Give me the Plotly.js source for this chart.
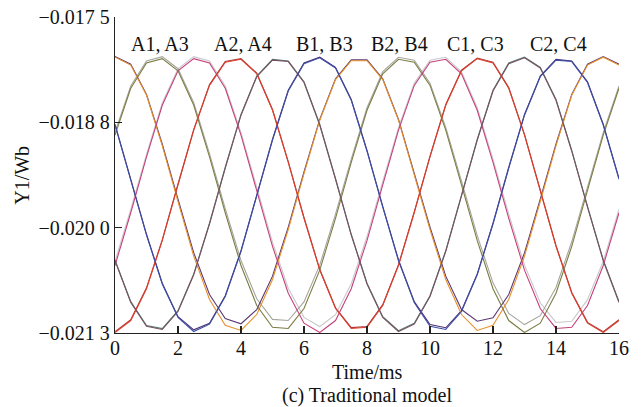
<!DOCTYPE html>
<html>
<head>
<meta charset="utf-8">
<script src="https://cdn.plot.ly/plotly-3.0.1.min.js"></script>
<style>html,body{margin:0;padding:0;background:#fff;}#chart{width:641px;height:407px;}</style>
</head>
<body>
<div id="chart"></div>
<script>
// time samples (ms)
const time = [0,0.5,1,1.5,2,2.5,3,3.5,4,4.5,5,5.5,6,6.5,7,7.5,8,8.5,9,9.5,10,10.5,11,11.5,12,12.5,13,13.5,14,14.5,15,15.5,16];

// flux linkage (Wb)
const orangeSeries = [-0.017983,-0.018078,-0.018442,-0.019047,-0.019720,-0.020376,-0.020897,-0.021207,-0.021269,-0.021078,-0.020656,-0.020056,-0.019383,-0.018741,-0.018253,-0.018026,-0.018026,-0.018253,-0.018741,-0.019383,-0.020056,-0.020656,-0.021078,-0.021269,-0.021207,-0.020897,-0.020376,-0.019720,-0.019047,-0.018442,-0.018078,-0.017983,-0.018078];
const purpleSeries = [-0.017975,-0.018068,-0.018430,-0.019027,-0.019690,-0.020336,-0.020837,-0.021127,-0.021189,-0.021018,-0.020616,-0.020026,-0.019363,-0.018731,-0.018243,-0.018016,-0.018016,-0.018243,-0.018731,-0.019363,-0.020026,-0.020616,-0.021018,-0.021159,-0.021117,-0.020837,-0.020336,-0.019690,-0.019027,-0.018430,-0.018068,-0.017975,-0.018068];
const oliveSeries = [-0.018921,-0.018357,-0.018053,-0.018001,-0.018148,-0.018562,-0.019182,-0.019854,-0.020488,-0.020969,-0.021231,-0.021245,-0.021006,-0.020544,-0.019921,-0.019249,-0.018622,-0.018183,-0.018009,-0.018044,-0.018323,-0.018861,-0.019518,-0.020190,-0.020767,-0.021150,-0.021294,-0.021182,-0.020822,-0.020258,-0.019586,-0.018921,-0.018357];
const graySeries = [-0.018890,-0.018330,-0.018029,-0.017977,-0.018122,-0.018532,-0.019142,-0.019804,-0.020428,-0.020889,-0.021136,-0.021150,-0.020926,-0.020484,-0.019871,-0.019209,-0.018592,-0.018157,-0.017985,-0.018020,-0.018296,-0.018828,-0.019473,-0.020130,-0.020697,-0.021065,-0.021199,-0.021092,-0.020752,-0.020203,-0.019546,-0.018890,-0.018330];
const pinkSeries = [-0.020488,-0.019854,-0.019182,-0.018562,-0.018148,-0.018001,-0.018053,-0.018357,-0.018921,-0.019586,-0.020258,-0.020822,-0.021182,-0.021294,-0.021150,-0.020767,-0.020190,-0.019518,-0.018861,-0.018323,-0.018044,-0.018009,-0.018183,-0.018622,-0.019249,-0.019921,-0.020544,-0.021006,-0.021245,-0.021231,-0.020969,-0.020488,-0.019854];
const silverSeries = [-0.020438,-0.019814,-0.019152,-0.018535,-0.018124,-0.017977,-0.018029,-0.018330,-0.018890,-0.019546,-0.020208,-0.020762,-0.021112,-0.021222,-0.021080,-0.020707,-0.020140,-0.019478,-0.018831,-0.018298,-0.018020,-0.017985,-0.018158,-0.018592,-0.019209,-0.019871,-0.020484,-0.020936,-0.021173,-0.021159,-0.020899,-0.020438,-0.019814];
const redSeries = [-0.021294,-0.021150,-0.020767,-0.020190,-0.019518,-0.018861,-0.018323,-0.018044,-0.018009,-0.018183,-0.018622,-0.019249,-0.019921,-0.020544,-0.021006,-0.021245,-0.021231,-0.020969,-0.020488,-0.019854,-0.019182,-0.018562,-0.018148,-0.018001,-0.018053,-0.018357,-0.018921,-0.019586,-0.020258,-0.020822,-0.021182,-0.021294,-0.021150];
const darkRedSeries = [-0.021284,-0.021140,-0.020757,-0.020180,-0.019508,-0.018851,-0.018313,-0.018036,-0.018001,-0.018175,-0.018612,-0.019239,-0.019911,-0.020534,-0.020996,-0.021235,-0.021221,-0.020959,-0.020478,-0.019844,-0.019172,-0.018552,-0.018140,-0.017993,-0.018045,-0.018349,-0.018911,-0.019576,-0.020248,-0.020812,-0.021172,-0.021284,-0.021140];
const brownSeries = [-0.020431,-0.020933,-0.021219,-0.021257,-0.021042,-0.020599,-0.019989,-0.019317,-0.018681,-0.018218,-0.018018,-0.018036,-0.018288,-0.018800,-0.019451,-0.020123,-0.020711,-0.021114,-0.021282,-0.021194,-0.020861,-0.020320,-0.019652,-0.018980,-0.018391,-0.018061,-0.017991,-0.018113,-0.018501,-0.019114,-0.019787,-0.020431,-0.020933];
const tealSeries = [-0.020421,-0.020923,-0.021209,-0.021247,-0.021032,-0.020589,-0.019979,-0.019307,-0.018671,-0.018210,-0.018010,-0.018028,-0.018280,-0.018790,-0.019441,-0.020113,-0.020701,-0.021104,-0.021272,-0.021184,-0.020851,-0.020310,-0.019642,-0.018970,-0.018381,-0.018053,-0.017983,-0.018105,-0.018491,-0.019104,-0.019777,-0.020421,-0.020923];
const blueSeries = [-0.018800,-0.019451,-0.020123,-0.020711,-0.021114,-0.021282,-0.021194,-0.020861,-0.020320,-0.019652,-0.018980,-0.018391,-0.018061,-0.017991,-0.018113,-0.018501,-0.019114,-0.019787,-0.020431,-0.020933,-0.021219,-0.021257,-0.021042,-0.020599,-0.019989,-0.019317,-0.018681,-0.018218,-0.018018,-0.018036,-0.018288,-0.018800,-0.019451];
const navySeries = [-0.018790,-0.019441,-0.020113,-0.020701,-0.021104,-0.021262,-0.021184,-0.020851,-0.020310,-0.019642,-0.018970,-0.018381,-0.018053,-0.017983,-0.018105,-0.018491,-0.019104,-0.019777,-0.020421,-0.020923,-0.021199,-0.021237,-0.021032,-0.020589,-0.019979,-0.019307,-0.018671,-0.018210,-0.018010,-0.018028,-0.018280,-0.018790,-0.019441];

// pair labels and their positions
const pairLabels = ["A1, A3","A2, A4","B1, B3","B2, B4","C1, C3","C2, C4"];
const pairLabelX = [1.43, 4.05, 6.66, 9.02, 11.46, 14.09];
const pairLabelY = -0.01782;

// y tick values and labels
const yTickVals = [-0.0213, -0.0200333, -0.0187667, -0.0175];
const yTickText = ["\u22120.021 3", "\u22120.020 0", "\u22120.018 8", "\u22120.017 5"];
const xTickVals = [0,2,4,6,8,10,12,14,16];

const seriesList = [
  {y: silverSeries, color: "#c9c9c9"},
  {y: graySeries, color: "#a6a6a0"},
  {y: purpleSeries, color: "#5c3a74"},
  {y: tealSeries, color: "#4f7a70"},
  {y: navySeries, color: "#4a2f6e"},
  {y: darkRedSeries, color: "#a83a3a"},
  {y: orangeSeries, color: "#e8902a"},
  {y: oliveSeries, color: "#7c7c42"},
  {y: pinkSeries, color: "#c6407c"},
  {y: redSeries, color: "#dc3f2c"},
  {y: brownSeries, color: "#7a5262"},
  {y: blueSeries, color: "#3b4ea8"}
];

const traces = seriesList.map(s => ({
  x: time, y: s.y, type: "scatter", mode: "lines",
  line: {color: s.color, width: 1.1}, hoverinfo: "skip", showlegend: false
}));

const font = {family: "Liberation Serif, Times New Roman, serif", size: 20, color: "#111"};

const annotations = pairLabels.map((t, i) => ({
  x: pairLabelX[i], y: pairLabelY, xref: "x", yref: "y", text: t,
  showarrow: false, font: font, xanchor: "center", yanchor: "middle"
}));
annotations.push({x: 0.5, y: -0.123, xref: "paper", yref: "paper", text: "Time/ms",
  showarrow: false, font: font, xanchor: "center", yanchor: "middle", borderpad: 0});
annotations.push({x: 0.5, y: -0.198, xref: "paper", yref: "paper", text: "(c) Traditional model",
  showarrow: false, font: font, xanchor: "center", yanchor: "middle", borderpad: 0});
annotations.push({x: -0.185, y: 0.5, xref: "paper", yref: "paper", text: "Y1/Wb", textangle: -90,
  showarrow: false, font: font, xanchor: "center", yanchor: "middle"});

const layout = {
  width: 641, height: 407,
  margin: {l: 115, r: 22, t: 17, b: 74, pad: 0},
  paper_bgcolor: "#fff", plot_bgcolor: "#fff",
  font: font,
  showlegend: false,
  xaxis: {
    range: [0, 16], tickvals: xTickVals, ticks: "inside", ticklen: 7, tickwidth: 1.3, tickcolor: "#222",
    showline: true, linecolor: "#222", linewidth: 1.3, showgrid: false, zeroline: false,
    tickfont: font, mirror: false, ticklabelstandoff: -3
  },
  yaxis: {
    range: [-0.0213, -0.0175], tickvals: yTickVals, ticktext: yTickText, ticks: "inside", ticklen: 7,
    tickwidth: 1.3, tickcolor: "#222", showline: true, linecolor: "#222", linewidth: 1.3,
    showgrid: false, zeroline: false, tickfont: font, mirror: false
  },
  annotations: annotations
};

Plotly.newPlot("chart", traces, layout, {staticPlot: true, displayModeBar: false});
</script>
</body>
</html>
